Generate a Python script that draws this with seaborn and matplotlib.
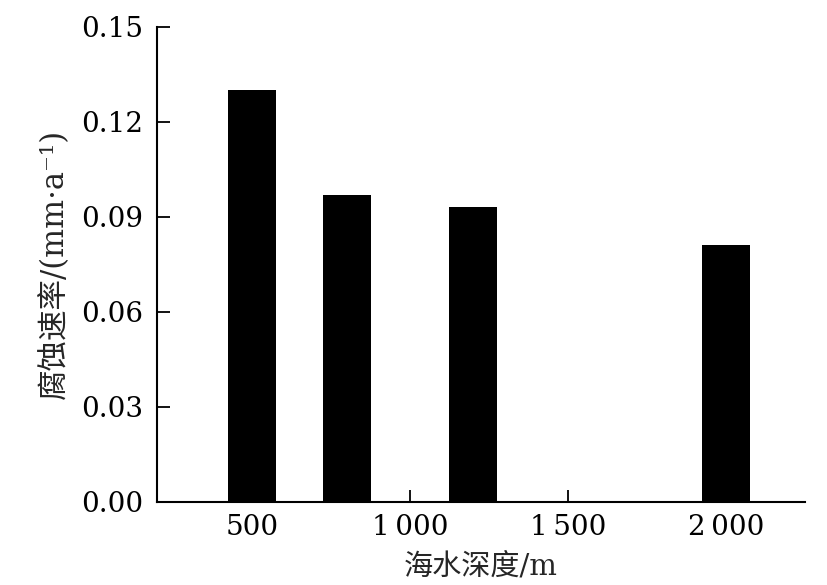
import matplotlib
matplotlib.use('Agg')
import matplotlib.pyplot as plt
import seaborn as sns

# corrosion rate vs sea depth
depth = [500, 800, 1200, 2000]
rate = [0.130, 0.097, 0.093, 0.081]
xticks = [500, 1000, 1500, 2000]
xticklabels = ['500', '1\u2009000', '1\u2009500', '2\u2009000']
yticks = [0.00, 0.03, 0.06, 0.09, 0.12, 0.15]

sns.set_style('ticks')
plt.rcParams['font.family'] = ['DejaVu Serif', 'Noto Sans CJK SC', 'DejaVu Sans']

fig = plt.figure(figsize=(8.28, 5.85), dpi=100)
ax = fig.add_axes([0.19, 0.142, 0.782, 0.812])

sns.barplot(x=depth, y=rate, native_scale=True, width=0.5, color='black',
            saturation=1, linewidth=0, ax=ax)

ax.set_xlim(200, 2250)
ax.set_ylim(0, 0.15)
ax.set_xticks(xticks)
ax.set_xticklabels(xticklabels)
ax.set_yticks(yticks)
ax.set_yticklabels(['%.2f' % v for v in yticks])

ax.tick_params(direction='in', length=9, width=1.3, labelsize=20, colors='black')
ax.tick_params(axis='x', pad=9)
ax.tick_params(axis='y', pad=10)
for s in ['top', 'right']:
    ax.spines[s].set_visible(False)
for s in ['left', 'bottom']:
    ax.spines[s].set_linewidth(1.5)
    ax.spines[s].set_color('black')

ax.set_xlabel('海水深度/m', fontsize=21, labelpad=8)
ax.set_ylabel('腐蚀速率/(mm·a\u207b\u00b9)', fontsize=22, labelpad=8)

plt.savefig('out.png', dpi=100)
